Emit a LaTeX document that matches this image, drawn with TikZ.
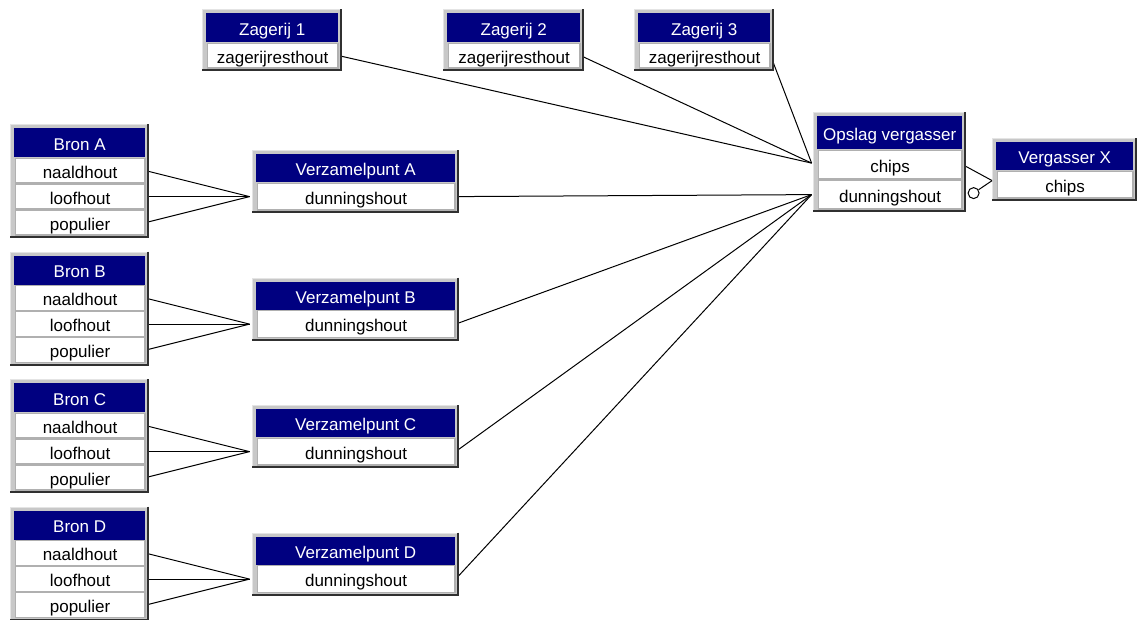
\documentclass[tikz,border=0pt]{standalone}
\usepackage{fontspec}
\setmainfont{Liberation Sans}
\pgfdeclarelayer{linkl}
\pgfdeclarelayer{background}
\pgfsetlayers{linkl,background,main}
\definecolor{navy}{HTML}{000080}
\definecolor{framegrey}{HTML}{C8C8C8}
\definecolor{lightedge}{HTML}{E4E4E4}
\definecolor{darkedge}{HTML}{303030}
\definecolor{cellgrey}{HTML}{B0B0B0}
\tikzset{
  hdr/.style={fill=navy, text=white, inner sep=0pt, text height=15pt, text depth=0pt, font=\fontsize{17}{19}\selectfont},
  cell/.style={fill=white, draw=cellgrey, line width=1.2pt, inner sep=0pt, text height=15pt, text depth=0pt, font=\fontsize{17}{19}\selectfont},
  link/.style={draw=black, line width=1pt},
  optcircle/.style={circle, draw=black, line width=1pt, fill=white, inner sep=0pt, minimum size=11pt},
}
% #1 name, #2 x0, #3 y0 (top), #4 x1, #5 header height, #6 row height, #7 title, #8 rows
\newcommand\entity[8]{%
  \pgfmathsetmacro\exa{#2+4}%
  \pgfmathsetmacro\ew{#4-#2-8}%
  \pgfmathsetmacro\eya{#3+4}%
  \node[hdr, minimum width={\ew*1pt}, minimum height={#5*1pt}, anchor=north west] (#1) at (\exa,\eya) {#7};
  \foreach \r [count=\k] in {#8} {
    \pgfmathsetmacro\rowy{#3+4+#5+(\k-1)*#6+0.6}%
    \pgfmathsetmacro\rowx{\exa+0.6}%
    \node[cell, minimum width={(\ew-1.2)*1pt}, minimum height={(#6-1.2)*1pt}, anchor=north west]
      (#1-\k) at (\rowx,\rowy) {\r};
    \xdef\lastk{\k}
  }
  \pgfmathsetmacro\ybot{#3+4+#5+\lastk*#6+3}%
  \begin{pgfonlayer}{background}
    \fill[framegrey] (#2,#3) rectangle (#4,\ybot);
    \draw[lightedge, line width=1pt] (#2+0.5,\ybot) -- (#2+0.5,#3+0.5) -- (#4,#3+0.5);
    \draw[darkedge, line width=2pt] (#4-1,#3) -- (#4-1,\ybot-1) -- (#2,\ybot-1);
  \end{pgfonlayer}
}
\begin{document}
\begin{tikzpicture}[x=1pt, y=-1pt]
\useasboundingbox (0,0) rectangle (1137,619);
\begin{pgfonlayer}{linkl}
  \fill[white] (0,0) rectangle (1137,619);
\end{pgfonlayer}

\entity{zag1}{202}{9}{342}{29}{26}{Zagerij 1}{zagerijresthout}
\entity{zag2}{443}{9}{584}{29}{26}{Zagerij 2}{zagerijresthout}
\entity{zag3}{634}{9}{774}{29}{26}{Zagerij 3}{zagerijresthout}

\entity{bronA}{10}{124}{149}{29}{26}{Bron A}{naaldhout,loofhout,populier}
\entity{bronB}{10}{251.5}{149}{29}{26}{Bron B}{naaldhout,loofhout,populier}
\entity{bronC}{10}{379}{149}{29}{26}{Bron C}{naaldhout,loofhout,populier}
\entity{bronD}{10}{506.5}{149}{29}{26}{Bron D}{naaldhout,loofhout,populier}

\entity{verzA}{252}{150}{459}{28}{28}{Verzamelpunt A}{dunningshout}
\entity{verzB}{252}{277.5}{459}{28}{28}{Verzamelpunt B}{dunningshout}
\entity{verzC}{252}{405}{459}{28}{28}{Verzamelpunt C}{dunningshout}
\entity{verzD}{252}{532.5}{459}{28}{28}{Verzamelpunt D}{dunningshout}

\entity{opslag}{813}{112}{966}{33}{30}{Opslag vergasser}{chips,dunningshout}
\entity{vx}{992}{138}{1137}{28}{28}{Vergasser X}{chips}

% convergence points
\coordinate (inChips) at ([xshift=-6pt,yshift=1.5pt]opslag-1.west);
\coordinate (inDun) at ([xshift=-6pt]opslag-2.west);
\coordinate (inVX) at ([xshift=-4.5pt,yshift=4pt]vx-1.west);
\foreach \v in {A,B,C,D} {
  \coordinate (in\v) at ([xshift=-7pt]verz\v-1.west);
}

\node[optcircle] (opt) at ([xshift=11pt,yshift=1.5pt]opslag-2.east) {};

\begin{pgfonlayer}{linkl}
  \foreach \v in {A,B,C,D} {
    \foreach \k in {1,2,3} {
      \draw[link] (bron\v-\k.east) -- (in\v);
    }
    \draw[link] (verz\v-1.east) -- (inDun);
  }
  \foreach \z in {1,2,3} {
    \draw[link] (zag\z-1.east) -- (inChips);
  }
  \draw[link] (opslag-1.east) -- (inVX);
\end{pgfonlayer}
\draw[link] (opt) -- (inVX);
\end{tikzpicture}
\end{document}
